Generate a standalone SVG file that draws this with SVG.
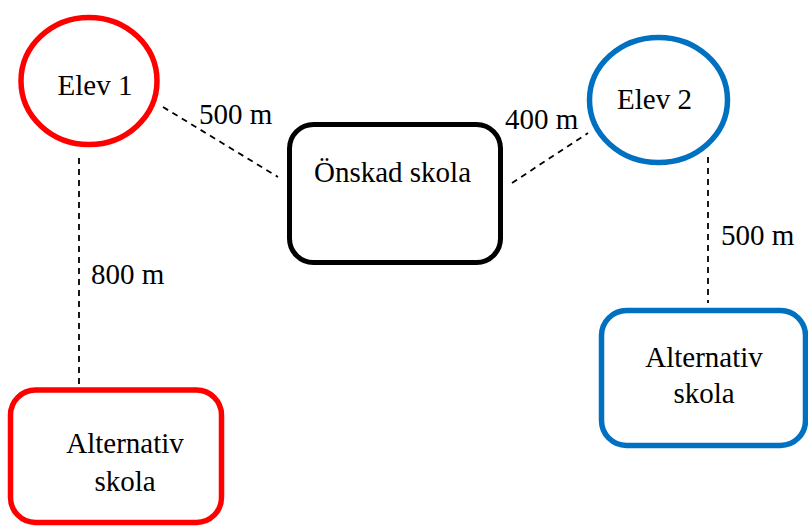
<svg xmlns="http://www.w3.org/2000/svg" width="808" height="526" viewBox="0 0 808 526">
<style>
text{font-family:"Liberation Serif","Times New Roman",serif;font-size:29px;fill:#000}
.c{text-anchor:middle}
.dash{stroke:#000;stroke-width:1.8;stroke-dasharray:6 5;fill:none}
.red{stroke:#FF0000;stroke-width:5.5;fill:#fff}
.blue{stroke:#0070C0;stroke-width:5.5;fill:#fff}
.blk{stroke:#000;stroke-width:5;fill:#fff}
</style>
<rect width="808" height="526" fill="#fff"/>
<g id="connectors">
<line class="dash" x1="163" y1="107" x2="278" y2="177"/>
<line class="dash" x1="512" y1="183" x2="588" y2="133"/>
<line class="dash" x1="79" y1="158" x2="79" y2="388"/>
<line class="dash" x1="708" y1="157" x2="708" y2="303"/>
<text x="199" y="124">500 m</text>
<text x="505" y="129">400 m</text>
<text x="91" y="284">800 m</text>
<text x="721" y="245">500 m</text>
</g>
<g id="elev1">
<ellipse class="red" cx="89" cy="81" rx="68" ry="63.5"/>
<text class="c" x="95" y="95">Elev 1</text>
</g>
<g id="onskad">
<rect class="blk" x="289.5" y="124.5" width="211" height="138" rx="24"/>
<text class="c" x="392.5" y="182">Önskad skola</text>
</g>
<g id="elev2">
<ellipse class="blue" cx="658.5" cy="100" rx="69" ry="62.5"/>
<text class="c" x="654.5" y="109">Elev 2</text>
</g>
<g id="alt1">
<rect class="red" x="10.5" y="390" width="211" height="132.5" rx="25"/>
<text class="c" x="125" y="453">Alternativ</text>
<text class="c" x="125" y="491">skola</text>
</g>
<g id="alt2">
<rect class="blue" x="601.5" y="310.5" width="204" height="135" rx="25"/>
<text class="c" x="704" y="367">Alternativ</text>
<text class="c" x="704" y="403">skola</text>
</g>
</svg>
